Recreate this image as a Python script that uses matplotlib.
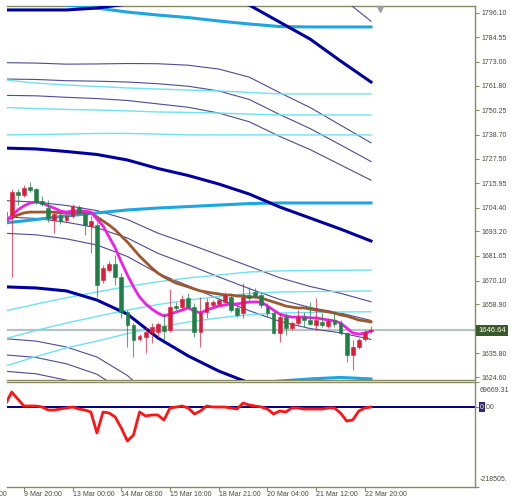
import matplotlib
matplotlib.use("Agg")
import matplotlib.pyplot as plt
import matplotlib.transforms as mtransforms

plt.rcParams['font.family'] = ['Liberation Sans', 'DejaVu Sans']

# H4 candles, bar index 0..60
opens = [1702.3, 1700.9, 1711.7, 1710.3, 1714.1, 1713.2, 1707.5, 1704.2, 1698.6, 1700.9,
         1698.6, 1700.4, 1704.7, 1701.4, 1695.7, 1696.2, 1670.3, 1675.1, 1677.9, 1671.8,
         1655.3, 1649.2, 1642.6, 1643.5, 1645.9, 1645.9, 1648.7, 1646.8, 1658.1, 1657.6,
         1661.9, 1657.6, 1645.9, 1655.3, 1658.6, 1659.0, 1660.0, 1662.4, 1657.1, 1654.8,
         1663.3, 1664.7, 1663.3, 1657.6, 1654.8, 1645.4, 1652.9, 1647.7, 1650.1, 1652.9,
         1651.5, 1649.2, 1650.6, 1648.7, 1651.5, 1650.1, 1645.4, 1635.0, 1638.8, 1642.6,
         1646.4]
highs = [1703.3, 1713.2, 1713.2, 1715.0, 1716.4, 1713.6, 1709.9, 1708.0, 1702.3, 1701.9,
         1701.4, 1706.1, 1705.6, 1702.3, 1700.4, 1697.6, 1677.4, 1679.3, 1682.1, 1673.6,
         1656.2, 1650.1, 1644.9, 1648.2, 1650.1, 1650.6, 1654.8, 1666.1, 1660.0, 1663.3,
         1664.2, 1659.5, 1662.4, 1661.9, 1660.9, 1661.9, 1664.7, 1663.3, 1658.6, 1668.9,
         1667.0, 1666.6, 1664.7, 1659.5, 1655.8, 1654.8, 1654.8, 1651.0, 1656.2, 1655.3,
         1660.0, 1661.9, 1654.8, 1652.4, 1655.3, 1651.5, 1645.9, 1642.1, 1643.1, 1646.8,
         1648.7]
lows = [1699.5, 1671.8, 1705.6, 1709.4, 1711.7, 1706.1, 1705.2, 1697.6, 1692.4, 1696.7,
        1697.6, 1699.5, 1701.4, 1691.5, 1683.0, 1662.3, 1668.9, 1674.1, 1668.0, 1652.5,
        1638.8, 1634.1, 1641.6, 1636.0, 1640.7, 1643.5, 1642.1, 1645.9, 1656.2, 1656.7,
        1657.1, 1643.5, 1638.8, 1652.5, 1657.6, 1658.1, 1659.5, 1655.3, 1652.9, 1652.5,
        1660.9, 1661.9, 1657.2, 1652.9, 1644.9, 1641.2, 1644.5, 1646.8, 1649.2, 1648.2,
        1649.2, 1646.8, 1648.2, 1647.8, 1648.2, 1644.5, 1631.8, 1628.0, 1637.9, 1641.6,
        1645.4]
closes = [1700.9, 1711.7, 1710.3, 1713.6, 1712.7, 1707.0, 1706.1, 1699.5, 1701.4, 1698.1,
          1700.4, 1705.2, 1702.3, 1696.2, 1698.1, 1668.0, 1676.0, 1677.9, 1671.8, 1655.3,
          1649.2, 1642.1, 1644.0, 1645.9, 1648.2, 1649.6, 1646.3, 1657.6, 1657.1, 1661.4,
          1657.6, 1645.9, 1654.8, 1660.0, 1660.0, 1660.9, 1663.3, 1656.2, 1653.9, 1662.4,
          1661.9, 1662.8, 1658.6, 1654.8, 1645.4, 1652.9, 1647.7, 1650.1, 1652.9, 1651.5,
          1649.6, 1651.5, 1649.2, 1651.0, 1649.6, 1645.4, 1635.0, 1638.8, 1642.1, 1645.9,
          1646.64]

ma_fast = [1697.6, 1700.5, 1703.3, 1705.2, 1706.6, 1707.0, 1706.6, 1705.2, 1704.2, 1702.8,
           1702.3, 1702.8, 1702.8, 1702.8, 1702.3, 1699.0, 1695.8, 1690.6, 1685.4, 1678.8,
           1672.7, 1667.1, 1662.3, 1659.1, 1656.7, 1654.8, 1653.4, 1654.3, 1655.3, 1656.2,
           1657.2, 1655.8, 1654.8, 1656.2, 1657.2, 1658.1, 1658.6, 1659.1, 1659.1, 1659.5,
           1660.0, 1660.0, 1660.0, 1658.1, 1656.2, 1654.3, 1653.4, 1652.9, 1652.9, 1652.9,
           1652.5, 1652.5, 1652.0, 1651.5, 1651.1, 1650.1, 1647.8, 1645.4, 1644.9, 1645.4,
           1646.3]
ma_slow = [1698.6, 1699.5, 1700.9, 1701.9, 1702.3, 1702.3, 1702.3, 1702.3, 1702.3, 1701.9,
           1701.9, 1701.9, 1701.9, 1701.9, 1701.9, 1700.0, 1698.1, 1696.2, 1693.9, 1691.0,
           1688.2, 1684.9, 1681.6, 1678.8, 1676.0, 1673.6, 1671.8, 1670.3, 1668.9, 1668.0,
           1667.1, 1666.1, 1665.2, 1664.7, 1664.2, 1663.8, 1663.3, 1663.3, 1662.8, 1662.8,
           1662.3, 1662.3, 1661.9, 1660.9, 1660.0, 1659.1, 1658.1, 1657.6, 1657.2, 1657.2,
           1656.7, 1656.2, 1655.8, 1655.3, 1654.8, 1653.9, 1653.4, 1652.5, 1651.5, 1651.1,
           1650.6]

# channel lines, read every 5 bars
band_x = [0, 5, 10, 15, 20, 25, 30, 35, 40, 45, 50, 55, 60]
navy_upper = [1797.4, 1797.4, 1797.4, 1798.3, 1800.2, 1802.5, 1803.5, 1803.0, 1799.7, 1791.7, 1783.7, 1773.4, 1763.5]
navy_mid = [1732.4, 1732.0, 1730.8, 1729.4, 1726.8, 1722.8, 1719.5, 1715.5, 1710.8, 1704.7, 1699.5, 1694.3, 1688.7]
navy_lower = [1667.1, 1666.6, 1665.2, 1660.9, 1654.3, 1643.1, 1634.6, 1627.5, 1621.9, 1617.6, 1615.3, 1615.3, 1613.9]
slate_a = [1822.2, 1822.4, 1822.8, 1824.7, 1828.2, 1833.0, 1835.6, 1836.4, 1833.7, 1825.0, 1815.9, 1803.6, 1792.1]
slate_b = [1772.6, 1772.4, 1771.9, 1772.0, 1772.2, 1772.1, 1771.4, 1769.6, 1765.8, 1758.5, 1751.5, 1743.2, 1734.9]
slate_c = [1764.9, 1764.7, 1764.1, 1763.9, 1763.5, 1762.7, 1761.5, 1759.3, 1755.3, 1748.2, 1741.6, 1733.9, 1726.1]
slate_d = [1757.2, 1757.0, 1756.3, 1755.7, 1754.8, 1753.2, 1751.6, 1748.9, 1744.8, 1737.9, 1731.7, 1724.5, 1717.3]
slate_e = [1707.7, 1707.0, 1705.4, 1703.0, 1698.8, 1692.4, 1687.4, 1682.1, 1676.8, 1671.4, 1667.3, 1664.1, 1660.1]
slate_f = [1700.0, 1699.3, 1697.5, 1694.9, 1690.1, 1682.9, 1677.5, 1671.8, 1666.3, 1661.2, 1657.4, 1654.8, 1651.3]
slate_g = [1692.3, 1691.6, 1689.7, 1686.8, 1681.4, 1673.5, 1667.6, 1661.4, 1655.9, 1650.9, 1647.5, 1645.5, 1642.4]
slate_h = [1642.7, 1641.6, 1638.8, 1634.1, 1625.4, 1612.6, 1603.4, 1594.6, 1588.0, 1584.4, 1583.1, 1585.1, 1585.3]
slate_i = [1635.1, 1633.9, 1630.9, 1626.0, 1616.7, 1603.2, 1593.5, 1584.2, 1577.4, 1574.1, 1573.2, 1575.8, 1576.5]
slate_j = [1627.4, 1626.2, 1623.2, 1617.8, 1608.0, 1579.6, 1568.7, 1558.8, 1552.7, 1548.0, 1543.8, 1547.7, 1550.4]
sky_upper = [1804.9, 1802.5, 1799.7, 1798.3, 1796.4, 1795.0, 1793.8, 1792.2, 1790.8, 1789.6, 1789.4, 1789.4, 1789.4]
sky_mid = [1697.2, 1698.8, 1700.5, 1701.9, 1703.3, 1704.2, 1704.9, 1705.6, 1706.3, 1706.6, 1706.6, 1706.6, 1706.6]
sky_lower = [1588.5, 1594.4, 1599.8, 1604.5, 1609.2, 1613.4, 1616.9, 1619.5, 1621.6, 1622.8, 1623.8, 1624.5, 1623.8]
aqua_a = [1764.4, 1763.0, 1762.1, 1761.4, 1760.7, 1760.2, 1759.7, 1759.3, 1758.6, 1757.9, 1757.9, 1757.9, 1757.9]
aqua_b = [1751.5, 1751.0, 1750.6, 1750.3, 1749.9, 1749.4, 1749.2, 1748.9, 1748.4, 1748.0, 1748.0, 1748.0, 1748.0]
aqua_c = [1738.6, 1738.8, 1739.0, 1739.3, 1739.3, 1739.0, 1738.6, 1738.6, 1738.6, 1738.6, 1738.6, 1738.6, 1738.6]
aqua_d = [1655.8, 1659.0, 1662.0, 1664.7, 1667.3, 1669.5, 1671.3, 1672.7, 1674.1, 1674.6, 1674.8, 1674.9, 1675.0]
aqua_e = [1642.8, 1646.6, 1650.1, 1653.2, 1656.2, 1658.8, 1660.9, 1662.6, 1664.0, 1664.7, 1664.9, 1665.0, 1665.2]
aqua_f = [1629.9, 1634.3, 1638.4, 1641.6, 1645.1, 1648.1, 1650.6, 1652.5, 1654.0, 1654.8, 1655.1, 1655.3, 1655.4]

# lower window oscillator
osc = [8200, 41000, 21800, 2700, 2700, 2700, 0, -8200, -8200, -5500,
       -2700, 0, -5500, -8200, -13700, -71000, -13700, -16400, -27300, -57400,
       -92900, -76500, -13700, -24600, -21800, -21800, -35500, -2700, 0, 2700,
       -2700, -19100, -10900, 2700, 0, 0, 0, -2700, -5500, 10900,
       5500, 2700, 0, -5500, -19100, -10900, -13700, -2700, -2700, -5500,
       -5500, -5500, -5500, -2700, -2700, -16400, -38200, -35500, -10900, -2700,
       0]
osc_top = 69669.31
osc_bottom = -218505

price_ticks = [1796.10, 1784.55, 1773.00, 1761.80, 1750.25, 1738.70, 1727.50, 1715.95,
               1704.40, 1693.20, 1681.65, 1670.10, 1658.90, 1635.80, 1624.60]
last_price = 1646.64
time_bars = [-6, 3, 11, 19, 27, 35, 43, 51, 59]
time_labels = ["8 Mar 12:00", "9 Mar 20:00", "13 Mar 00:00", "14 Mar 08:00", "15 Mar 16:00",
               "18 Mar 21:00", "20 Mar 04:00", "21 Mar 12:00", "22 Mar 20:00"]

frame_col = '#8a8a62'
text_col = '#4a4a3c'
up_col = '#dc1e3c'
down_col = '#1e8044'

fig = plt.figure(figsize=(5.11, 5.01), dpi=100)
ax = fig.add_axes([7 / 511, 1 - 380 / 501, 468 / 511, 374 / 501])
ax2 = fig.add_axes([7 / 511, 1 - 487 / 501, 468 / 511, 105.5 / 501])

xlim = (0.23, 77.08)
ax.set_xlim(*xlim)
ax.set_ylim(1623.29, 1799.26)

# bid line
ax.axhline(last_price, color='#b8c0c8', lw=1.6, zorder=1)

# channel lines
for vals in [slate_a, slate_b, slate_c, slate_d, slate_e, slate_f, slate_g,
             slate_h, slate_i, slate_j]:
    ax.plot(band_x, vals, color='#4c4c94', lw=0.8, zorder=3)
for vals in [aqua_a, aqua_b, aqua_c, aqua_d, aqua_e, aqua_f]:
    ax.plot(band_x, vals, color='#6ee2f0', lw=1.0, zorder=3)
for vals in [sky_upper, sky_mid, sky_lower]:
    ax.plot(band_x, vals, color='#1ea6e2', lw=2.2, zorder=3.2)
for vals in [navy_upper, navy_mid, navy_lower]:
    ax.plot(band_x, vals, color='#0000a0', lw=2.2, zorder=3.3)

ax.plot(range(len(ma_slow)), ma_slow, color='#a0562c', lw=2.0, zorder=4)
ax.plot(range(len(ma_fast)), ma_fast, color='#f01ee6', lw=2.0, zorder=4.1)

# candles on top of the indicator lines
for i in range(len(opens)):
    o, h, l, c = opens[i], highs[i], lows[i], closes[i]
    col = up_col if c >= o else down_col
    ax.vlines(i, l, h, color=col, lw=0.8, alpha=0.7, zorder=5)
    ax.bar(i, abs(c - o), bottom=min(o, c), width=0.62, color=col,
           edgecolor=col, linewidth=0.4, zorder=5.1)

# shift marker
ax.plot(0.797, 0.992, marker='v', ms=5, color='#a0a0a0', transform=ax.transAxes,
        clip_on=False, zorder=6)

ax.yaxis.tick_right()
ax.set_yticks(price_ticks)
ax.set_yticklabels(['%.2f' % p for p in price_ticks])
ax.tick_params(axis='y', direction='out', length=3, width=0.8, colors=frame_col,
               labelcolor=text_col, labelsize=5, pad=1.5)
ax.set_xticks([])
ax.spines['left'].set_visible(False)
for s in ['top', 'right', 'bottom']:
    ax.spines[s].set_color(frame_col)
    ax.spines[s].set_linewidth(1.0)

trans = mtransforms.blended_transform_factory(ax.transAxes, ax.transData)
ax.text(1.0 + 3 / 468, last_price, '%.2f' % last_price, transform=trans,
        ha='left', va='center', color='white', fontsize=5.4,
        bbox=dict(boxstyle='square,pad=0.3', fc='#3a5a28', ec='none'))

# lower window
ax2.set_xlim(*xlim)
ax2.set_ylim(osc_bottom, osc_top)
ax2.axhline(0, color='#000080', lw=1.4, zorder=2)
ax2.plot(range(len(osc)), osc, color='#ff1414', lw=2.0, zorder=3)
ax2.spines['left'].set_visible(False)
for s in ['top', 'right', 'bottom']:
    ax2.spines[s].set_color(frame_col)
    ax2.spines[s].set_linewidth(1.0)
ax2.yaxis.tick_right()
ax2.set_yticks([osc_top, 0, osc_bottom])
ax2.set_yticklabels([])
ax2.tick_params(axis='y', direction='out', length=3, width=0.8, colors=frame_col)
ax2.set_xticks(time_bars[1:])
ax2.set_xticklabels([])
ax2.tick_params(axis='x', direction='out', length=3, width=0.8, colors=frame_col)

ax2.text(1.0 + 5 / 468, 0.95, '%.2f' % osc_top, transform=ax2.transAxes,
         ha='left', va='top', color=text_col, fontsize=5)
ax2.text(1.0 + 5 / 468, 0.04, '%d.' % osc_bottom, transform=ax2.transAxes,
         ha='left', va='bottom', color=text_col, fontsize=5)
trans2 = mtransforms.blended_transform_factory(ax2.transAxes, ax2.transData)
ax2.text(1.0 + 5 / 468, 0, '0', transform=trans2, ha='left', va='center',
         color='white', fontsize=5,
         bbox=dict(boxstyle='square,pad=0.15', fc='#2a2a70', ec='none'))
ax2.text(1.0 + 9 / 468, 0, '.00', transform=trans2, ha='left', va='center',
         color=text_col, fontsize=5)

transx = mtransforms.blended_transform_factory(ax2.transData, ax2.transAxes)
for b, lab in zip(time_bars, time_labels):
    ax2.text(b, -0.035, lab, transform=transx, ha='left', va='top',
             color=text_col, fontsize=5, clip_on=False)

fig.savefig('out.png', dpi=100)
